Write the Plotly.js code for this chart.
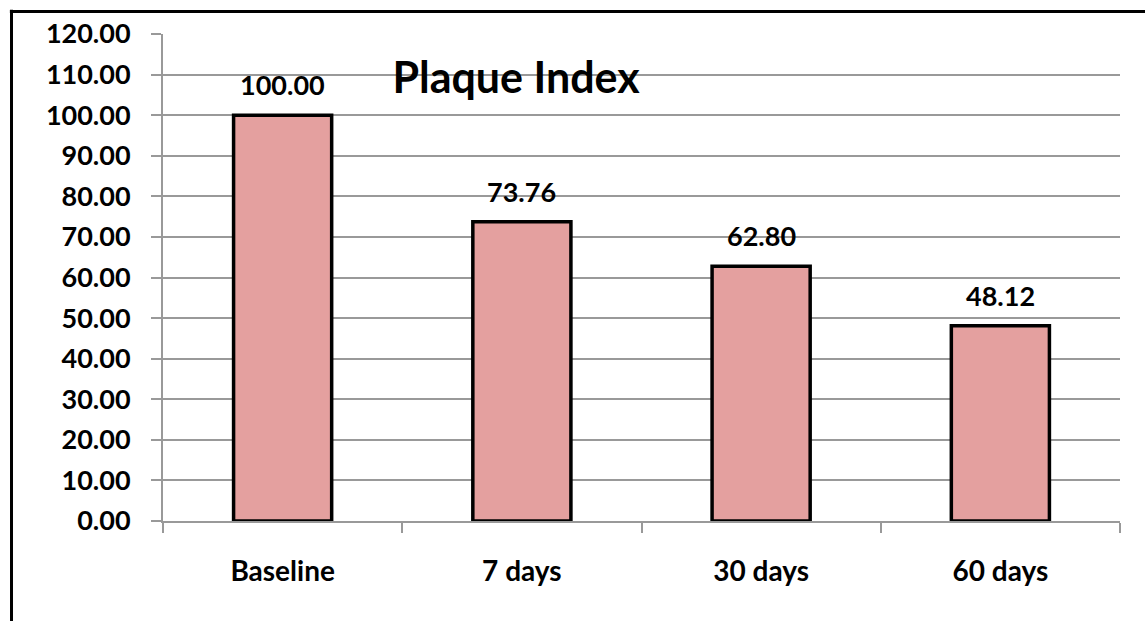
<!DOCTYPE html>
<html>
<head>
<meta charset="utf-8">
<script src="https://cdn.plot.ly/plotly-3.0.1.min.js"></script>
<style>
html,body{margin:0;padding:0;background:#fff;}
#chart{width:1145px;height:621px;}
</style>
</head>
<body>
<div id="chart"></div>
<script>
const categories = ["Baseline", "7 days", "30 days", "60 days"];
const values = [100.00, 73.76, 62.80, 48.12];
const valueLabels = ["100.00", "73.76", "62.80", "48.12"];
const yTickVals = [0,10,20,30,40,50,60,70,80,90,100,110,120];
const chartTitle = "Plaque Index";

const FONT = "Lato, 'Open Sans', sans-serif";
const trace = {
  type: "bar",
  x: categories,
  y: values,
  marker: {color: "#E4A09F", line: {color: "#000", width: 3.5}},
  hoverinfo: "skip"
};

const annotations = categories.map((c, i) => ({
  x: c, y: values[i], xref: "x", yref: "y",
  text: "<b>" + valueLabels[i] + "</b>",
  showarrow: false, yanchor: "bottom", yshift: 12,
  font: {family: FONT, size: 27, color: "#000"}
}));

const layout = {
  width: 1145, height: 621,
  margin: {l: 163, r: 25, t: 34, b: 100},
  paper_bgcolor: "#fff", plot_bgcolor: "#fff",
  showlegend: false,
  bargap: 0.59,
  title: {
    text: "<b>" + chartTitle + "</b>",
    x: 0.4507, xref: "container", xanchor: "center",
    y: 0.874, yref: "container", yanchor: "middle",
    font: {family: FONT, size: 43, color: "#000"}
  },
  xaxis: {
    type: "category",
    showline: true, linecolor: "#999", linewidth: 2,
    ticks: "outside", tickson: "boundaries", ticklen: 10, tickcolor: "#999", tickwidth: 2,
    showgrid: false,
    tickfont: {family: FONT, size: 28, color: "#000"},
    ticklabelstandoff: 24,
    tickprefix: "<b>", ticksuffix: "</b>"
  },
  yaxis: {
    range: [0, 120],
    tickvals: yTickVals,
    ticktext: yTickVals.map(v => "<b>" + v.toFixed(2) + "</b>"),
    showline: true, linecolor: "#999", linewidth: 2,
    ticks: "outside", ticklen: 10, tickcolor: "#999", tickwidth: 2,
    showgrid: true, gridcolor: "#999", gridwidth: 2,
    zeroline: false,
    tickfont: {family: FONT, size: 27, color: "#000"},
    ticklabelstandoff: 15
  },
  annotations: annotations,
  shapes: [
    {type: "line", xref: "paper", yref: "paper", x0: -0.16, x1: 1.05, y0: 1.0462, y1: 1.0462, line: {color: "#000", width: 3}},
    {type: "line", xref: "paper", yref: "paper", x0: -0.1583, x1: -0.1583, y0: 1.05, y1: -0.25, line: {color: "#000", width: 3}}
  ]
};

Plotly.newPlot("chart", [trace], layout, {displayModeBar: false, staticPlot: true});
</script>
</body>
</html>
